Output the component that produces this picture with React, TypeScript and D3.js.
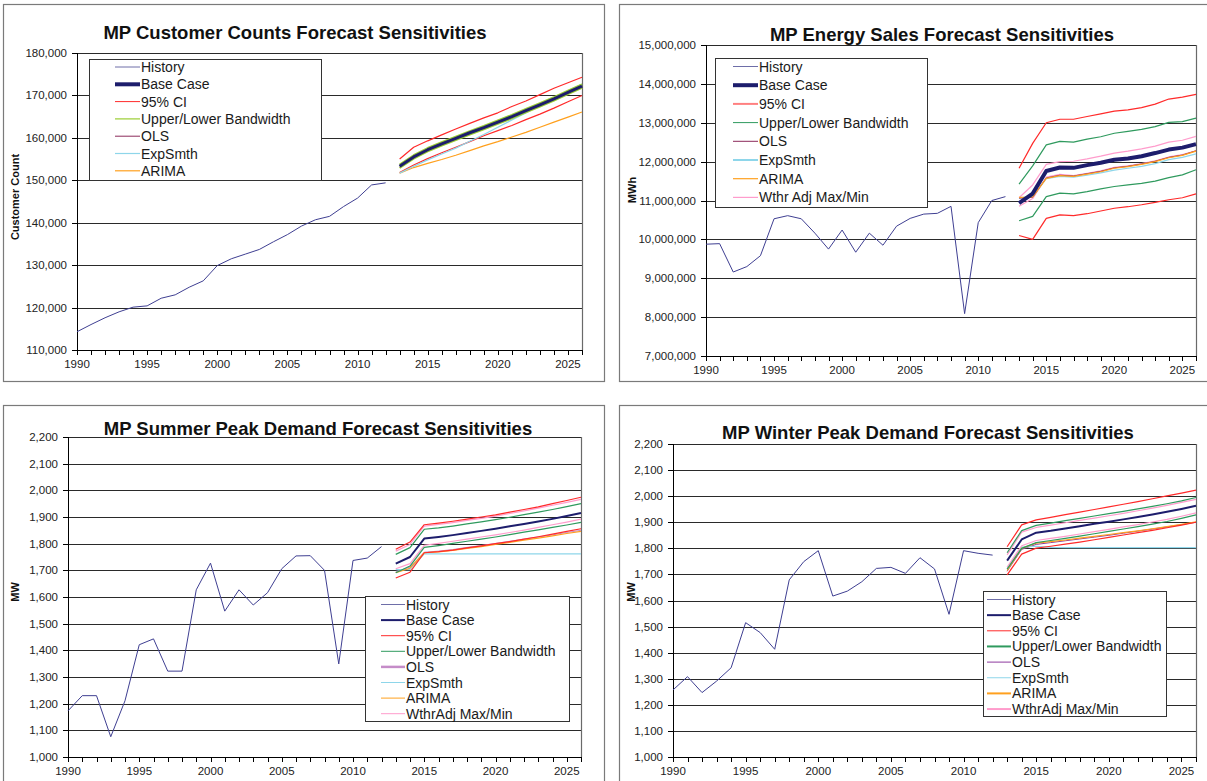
import React from "react";
import * as d3 from "d3";

// ---------- categories ----------
const histYears = [1990, 1991, 1992, 1993, 1994, 1995, 1996, 1997, 1998, 1999, 2000, 2001, 2002, 2003, 2004, 2005, 2006, 2007, 2008, 2009, 2010, 2011, 2012];
const fcYears = [2013, 2014, 2015, 2016, 2017, 2018, 2019, 2020, 2021, 2022, 2023, 2024, 2025, 2026];
const xLabelYears = [1990, 1995, 2000, 2005, 2010, 2015, 2020, 2025];
const xTickYears = [1990, 1991, 1992, 1993, 1994, 1995, 1996, 1997, 1998, 1999, 2000, 2001, 2002, 2003, 2004, 2005, 2006, 2007, 2008, 2009, 2010, 2011, 2012, 2013, 2014, 2015, 2016, 2017, 2018, 2019, 2020, 2021, 2022, 2023, 2024, 2025, 2026];

// ---------- Customer counts ----------
const custTicks = [110000, 120000, 130000, 140000, 150000, 160000, 170000, 180000];
const custHistory = [114300, 116000, 117600, 119000, 120100, 120400, 122200, 123000, 124800, 126300, 129900, 131500, 132600, 133700, 135500, 137200, 139200, 140700, 141500, 143800, 145800, 148900, 149400];
const custBase = [153300, 155500, 157200, 158600, 159900, 161200, 162400, 163700, 165000, 166400, 167800, 169200, 170700, 172200];
const custCIHigh = [155000, 157800, 159300, 160700, 162100, 163400, 164700, 165900, 167400, 168700, 170200, 171700, 173000, 174300];
const custCILow = [151800, 153600, 155100, 156500, 157800, 159100, 160500, 161700, 162900, 164300, 165600, 167000, 168500, 170000];
const custBandHigh = [153700, 155900, 157600, 159000, 160300, 161600, 162800, 164100, 165400, 166800, 168200, 169600, 171100, 172600];
const custBandLow = [152900, 155100, 156800, 158200, 159500, 160800, 162000, 163300, 164600, 166000, 167400, 168800, 170300, 171800];
const custOLS = [153200, 155400, 157100, 158500, 159800, 161100, 162300, 163600, 164900, 166300, 167700, 169100, 170600, 172100];
const custExpSmth = [151700, 153300, 154800, 156200, 157600, 159200, 160800, 162500, 164200, 165900, 167700, 169400, 171100, 172700];
const custArima = [151700, 153000, 154000, 154900, 155900, 157000, 158100, 159100, 160200, 161300, 162500, 163700, 164900, 166100];

// ---------- Energy sales ----------
const energyTicks = [7000000, 8000000, 9000000, 10000000, 11000000, 12000000, 13000000, 14000000, 15000000];
const energyHistory = [9876000, 9890000, 9160000, 9300000, 9580000, 10530000, 10610000, 10530000, 10160000, 9750000, 10240000, 9670000, 10160000, 9850000, 10340000, 10540000, 10650000, 10670000, 10850000, 8090000, 10430000, 11000000, 11100000];
const energyBase = [10930000, 11180000, 11760000, 11850000, 11840000, 11910000, 11970000, 12050000, 12080000, 12140000, 12220000, 12310000, 12360000, 12450000];
const energyCIHigh = [11830000, 12470000, 13000000, 13090000, 13090000, 13160000, 13230000, 13300000, 13330000, 13390000, 13480000, 13610000, 13660000, 13730000];
const energyCILow = [10100000, 10000000, 10540000, 10630000, 10610000, 10660000, 10730000, 10800000, 10840000, 10890000, 10950000, 11020000, 11070000, 11170000];
const energyBandHigh = [11420000, 11890000, 12430000, 12520000, 12500000, 12580000, 12640000, 12730000, 12780000, 12830000, 12900000, 13010000, 13030000, 13120000];
const energyBandLow = [10480000, 10590000, 11100000, 11190000, 11170000, 11230000, 11300000, 11360000, 11400000, 11440000, 11500000, 11590000, 11660000, 11790000];
const energyOLS = [11060000, 11080000, 11580000, 11650000, 11630000, 11690000, 11750000, 11840000, 11880000, 11940000, 12010000, 12110000, 12170000, 12280000];
const energyExpSmth = [11070000, 11100000, 11560000, 11620000, 11600000, 11650000, 11710000, 11780000, 11830000, 11880000, 11950000, 12050000, 12110000, 12200000];
const energyArima = [11080000, 11090000, 11570000, 11640000, 11620000, 11680000, 11740000, 11830000, 11870000, 11930000, 12000000, 12100000, 12160000, 12270000];
const energyWxHigh = [11070000, 11400000, 11930000, 12000000, 12010000, 12070000, 12140000, 12220000, 12270000, 12330000, 12400000, 12500000, 12550000, 12650000];
const energyWxLow = [10850000, 11050000, 11600000, 11670000, 11640000, 11700000, 11760000, 11850000, 11890000, 11950000, 12020000, 12120000, 12180000, 12280000];

// ---------- Summer peak ----------
const mwTicks = [1000, 1100, 1200, 1300, 1400, 1500, 1600, 1700, 1800, 1900, 2000, 2100, 2200];
const summerHistory = [1173, 1230, 1230, 1076, 1211, 1421, 1443, 1322, 1322, 1627, 1727, 1547, 1627, 1570, 1616, 1706, 1754, 1755, 1700, 1349, 1737, 1746, 1789];
const summerBase = [1725, 1750, 1819, 1825, 1832, 1840, 1848, 1856, 1865, 1874, 1883, 1893, 1904, 1915];
const summerCIHigh = [1779, 1806, 1871, 1877, 1884, 1892, 1900, 1908, 1918, 1928, 1938, 1950, 1962, 1974];
const summerCILow = [1671, 1693, 1766, 1770, 1776, 1784, 1792, 1800, 1808, 1817, 1826, 1836, 1846, 1856];
const summerBandHigh = [1760, 1785, 1854, 1859, 1866, 1874, 1882, 1890, 1899, 1909, 1918, 1928, 1939, 1950];
const summerBandLow = [1691, 1716, 1786, 1793, 1801, 1809, 1817, 1825, 1834, 1843, 1852, 1861, 1870, 1880];
const summerOLS = [1695, 1712, 1768, 1772, 1778, 1786, 1793, 1801, 1809, 1817, 1825, 1833, 1842, 1850];
const summerExpSmth = [1703, 1703, 1762, 1762, 1762, 1762, 1762, 1762, 1762, 1762, 1762, 1762, 1762, 1762];
const summerArima = [1691, 1708, 1766, 1769, 1775, 1782, 1789, 1797, 1805, 1813, 1821, 1829, 1838, 1846];
const summerWxHigh = [1772, 1797, 1866, 1872, 1879, 1887, 1895, 1903, 1913, 1923, 1933, 1944, 1955, 1966];
const summerWxLow = [1706, 1725, 1794, 1801, 1809, 1817, 1825, 1833, 1842, 1851, 1861, 1871, 1881, 1892];

// ---------- Winter peak ----------
const winterHistory = [1257, 1308, 1247, 1291, 1342, 1515, 1477, 1413, 1679, 1749, 1791, 1617, 1636, 1672, 1723, 1727, 1704, 1764, 1721, 1547, 1791, 1781, 1774];
const winterBase = [1753, 1834, 1860, 1867, 1876, 1885, 1894, 1902, 1911, 1920, 1930, 1940, 1951, 1963];
const winterCIHigh = [1806, 1890, 1909, 1919, 1929, 1939, 1949, 1959, 1969, 1979, 1990, 2001, 2012, 2023];
const winterCILow = [1698, 1778, 1801, 1808, 1816, 1824, 1833, 1842, 1851, 1860, 1869, 1879, 1889, 1900];
const winterBandHigh = [1783, 1868, 1888, 1897, 1906, 1915, 1924, 1933, 1942, 1951, 1961, 1971, 1982, 1995];
const winterBandLow = [1720, 1800, 1822, 1830, 1838, 1847, 1856, 1865, 1874, 1883, 1893, 1903, 1915, 1928];
const winterOLS = [1712, 1796, 1815, 1822, 1829, 1836, 1843, 1850, 1858, 1866, 1874, 1882, 1891, 1900];
const winterExpSmth = [1722, 1805, 1808, 1804, 1803, 1803, 1803, 1803, 1803, 1803, 1803, 1803, 1803, 1803];
const winterArima = [1715, 1800, 1820, 1826, 1832, 1839, 1846, 1853, 1860, 1867, 1875, 1883, 1892, 1902];
const winterWxHigh = [1775, 1862, 1880, 1889, 1898, 1907, 1916, 1925, 1934, 1944, 1954, 1965, 1976, 1988];
const winterWxLow = [1728, 1810, 1830, 1838, 1846, 1855, 1864, 1873, 1882, 1891, 1901, 1911, 1923, 1936];

// ---------- colours ----------
const C = {
  hist: "#3f3f92",
  histLegend: "#6e6ea8",
  base: "#1d1d6c",
  ci: "#ff2a2a",
  ciLegend2: "#ff8080",
  bandYG: "#9acd32",
  band: "#2f9a5e",
  olsDark: "#8b2a5a",
  olsPink: "#c58cc8",
  olsPurple: "#8e3a9e",
  exp: "#8ed6ea",
  arima: "#ffa01e",
  wx: "#ff9ccc",
};

const FONT = "'Liberation Sans', Arial, Helvetica, sans-serif";

type S = { years: number[]; values: number[]; color: string; width: number };
type L = { label: string; color: string; width: number };
type Cfg = {
  frame: [number, number, number, number];
  l: number; r: number; t: number; b: number;
  yDomain: [number, number];
  yTicks: number[];
  title: string; titleX: number; titleY: number;
  yTitle: string; yTitleX: number; yTitleY: number;
  series: S[];
  legend: { x: number; y: number; w: number; h: number; row0: number; rowH: number; s1: number; s2: number; tx: number; items: L[] };
};

const fmt = d3.format(",");

function Panel({ cfg }: { cfg: Cfg }) {
  const x = d3.scaleLinear().domain([1990, 2026]).range([cfg.l, cfg.r]);
  const y = d3.scaleLinear().domain(cfg.yDomain).range([cfg.b, cfg.t]);
  const line = d3.line<[number, number]>().x((d) => x(d[0])).y((d) => y(d[1]));
  const lg = cfg.legend;
  const [fx, fy, fw, fh] = cfg.frame;
  return (
    <g fontFamily={FONT}>
      <rect x={fx + 0.5} y={fy + 0.5} width={fw} height={fh} fill="#fff" stroke="#7a7a7a" strokeWidth={1.2} />
      {/* gridlines */}
      {cfg.yTicks.slice(1).map((v) => (
        <line key={"g" + v} x1={cfg.l} x2={cfg.r} y1={Math.round(y(v)) + 0.5} y2={Math.round(y(v)) + 0.5} stroke="#2a2a2a" strokeWidth={1} />
      ))}
      {/* right border */}
      <line x1={cfg.r + 0.5} x2={cfg.r + 0.5} y1={cfg.t} y2={cfg.b} stroke="#6a6a6a" strokeWidth={1.2} />
      {/* axes */}
      <line x1={cfg.l + 0.5} x2={cfg.l + 0.5} y1={cfg.t} y2={cfg.b} stroke="#000" strokeWidth={1} />
      <line x1={cfg.l} x2={cfg.r} y1={cfg.b + 0.5} y2={cfg.b + 0.5} stroke="#000" strokeWidth={1} />
      {cfg.yTicks.map((v) => (
        <g key={"yt" + v}>
          <line x1={cfg.l - 5} x2={cfg.l} y1={Math.round(y(v)) + 0.5} y2={Math.round(y(v)) + 0.5} stroke="#000" />
          <text x={cfg.l - 10} y={y(v) + 4} textAnchor="end" fontSize={11.5} fill="#222">
            {fmt(v)}
          </text>
        </g>
      ))}
      {xTickYears.map((yr) => (
        <line key={"xt" + yr} x1={Math.round(x(yr)) + 0.5} x2={Math.round(x(yr)) + 0.5} y1={cfg.b} y2={cfg.b + 5} stroke="#000" />
      ))}
      {xLabelYears.map((yr) => (
        <text key={"xl" + yr} x={x(yr)} y={cfg.b + 18} textAnchor="middle" fontSize={11.5} fill="#222">
          {yr}
        </text>
      ))}
      {/* series */}
      {cfg.series.map((s, i) => (
        <path
          key={"s" + i}
          d={line(s.years.map((yr, j) => [yr, s.values[j]] as [number, number])) || ""}
          fill="none"
          stroke={s.color}
          strokeWidth={s.width}
          strokeLinejoin="round"
        />
      ))}
      {/* titles */}
      <text x={cfg.titleX} y={cfg.titleY} textAnchor="middle" fontSize={18.5} fontWeight="bold" fill="#111">
        {cfg.title}
      </text>
      <text
        transform={`translate(${cfg.yTitleX},${cfg.yTitleY}) rotate(-90)`}
        textAnchor="middle"
        fontSize={11}
        fontWeight="bold"
        fill="#111"
      >
        {cfg.yTitle}
      </text>
      {/* legend */}
      <rect x={lg.x + 0.5} y={lg.y + 0.5} width={lg.w} height={lg.h} fill="#fff" stroke="#333" strokeWidth={1} />
      {lg.items.map((it, i) => {
        const cy = lg.row0 + i * lg.rowH;
        return (
          <g key={"lg" + i}>
            <line x1={lg.s1} x2={lg.s2} y1={cy} y2={cy} stroke={it.color} strokeWidth={it.width} />
            <text x={lg.tx} y={cy + 5} fontSize={14} fill="#1a1a1a">
              {it.label}
            </text>
          </g>
        );
      })}
    </g>
  );
}

const H = histYears;
const F = fcYears;

const panels: Cfg[] = [
  {
    frame: [3, 4, 601, 377],
    l: 77, r: 582, t: 53, b: 350,
    yDomain: [110000, 180000],
    yTicks: custTicks,
    title: "MP Customer Counts Forecast Sensitivities", titleX: 295, titleY: 39,
    yTitle: "Customer  Count", yTitleX: 19, yTitleY: 197,
    series: [
      { years: H, values: custHistory, color: C.hist, width: 1 },
      { years: F, values: custCILow, color: C.ci, width: 1.2 },
      { years: F, values: custCIHigh, color: C.ci, width: 1.2 },
      { years: F, values: custArima, color: C.arima, width: 1.2 },
      { years: F, values: custExpSmth, color: C.exp, width: 1.3 },
      { years: F, values: custOLS, color: C.olsDark, width: 1 },
      { years: F, values: custBandHigh, color: C.bandYG, width: 2 },
      { years: F, values: custBandLow, color: C.bandYG, width: 2 },
      { years: F, values: custBase, color: C.base, width: 3 },
    ],
    legend: {
      x: 89, y: 59, w: 232, h: 121, row0: 67, rowH: 17.3, s1: 115, s2: 140, tx: 141,
      items: [
        { label: "History", color: C.histLegend, width: 1 },
        { label: "Base Case", color: C.base, width: 4 },
        { label: "95% CI", color: C.ci, width: 1 },
        { label: "Upper/Lower Bandwidth", color: C.bandYG, width: 1.2 },
        { label: "OLS", color: C.olsDark, width: 1 },
        { label: "ExpSmth", color: C.exp, width: 1.2 },
        { label: "ARIMA", color: C.arima, width: 1.2 },
      ],
    },
  },
  {
    frame: [619, 4, 590, 377],
    l: 706, r: 1196, t: 45, b: 356,
    yDomain: [7000000, 15000000],
    yTicks: energyTicks,
    title: "MP Energy Sales Forecast Sensitivities", titleX: 942, titleY: 41,
    yTitle: "MWh", yTitleX: 636, yTitleY: 190,
    series: [
      { years: H, values: energyHistory, color: C.hist, width: 1 },
      { years: F, values: energyCIHigh, color: C.ci, width: 1.2 },
      { years: F, values: energyCILow, color: C.ci, width: 1.2 },
      { years: F, values: energyBandHigh, color: C.band, width: 1.2 },
      { years: F, values: energyBandLow, color: C.band, width: 1.2 },
      { years: F, values: energyWxHigh, color: C.wx, width: 1.2 },
      { years: F, values: energyWxLow, color: C.wx, width: 1.2 },
      { years: F, values: energyExpSmth, color: C.exp, width: 1.2 },
      { years: F, values: energyOLS, color: C.olsDark, width: 1 },
      { years: F, values: energyArima, color: C.arima, width: 1.2 },
      { years: F, values: energyBase, color: C.base, width: 4 },
    ],
    legend: {
      x: 715, y: 58, w: 212, h: 149, row0: 66.5, rowH: 18.7, s1: 733, s2: 758, tx: 759,
      items: [
        { label: "History", color: C.histLegend, width: 1 },
        { label: "Base Case", color: C.base, width: 4 },
        { label: "95% CI", color: C.ciLegend2, width: 2 },
        { label: "Upper/Lower Bandwidth", color: C.band, width: 1 },
        { label: "OLS", color: C.olsDark, width: 1 },
        { label: "ExpSmth", color: C.exp, width: 2 },
        { label: "ARIMA", color: C.arima, width: 1.2 },
        { label: "Wthr Adj Max/Min", color: C.wx, width: 1.2 },
      ],
    },
  },
  {
    frame: [3, 405, 601, 380],
    l: 68, r: 581, t: 437, b: 757,
    yDomain: [1000, 2200],
    yTicks: mwTicks,
    title: "MP Summer Peak Demand Forecast Sensitivities", titleX: 318, titleY: 435,
    yTitle: "MW", yTitleX: 19, yTitleY: 592,
    series: [
      { years: H, values: summerHistory, color: C.hist, width: 1 },
      { years: F, values: summerOLS, color: C.olsPink, width: 1 },
      { years: F, values: summerExpSmth, color: C.exp, width: 1.2 },
      { years: F, values: summerArima, color: C.arima, width: 1.2 },
      { years: F, values: summerWxHigh, color: C.wx, width: 1.2 },
      { years: F, values: summerWxLow, color: C.wx, width: 1.2 },
      { years: F, values: summerBandHigh, color: C.band, width: 1.2 },
      { years: F, values: summerBandLow, color: C.band, width: 1.2 },
      { years: F, values: summerCIHigh, color: C.ci, width: 1.2 },
      { years: F, values: summerCILow, color: C.ci, width: 1.2 },
      { years: F, values: summerBase, color: C.base, width: 2 },
    ],
    legend: {
      x: 365, y: 596, w: 204, h: 125, row0: 604.5, rowH: 15.6, s1: 381, s2: 405, tx: 406,
      items: [
        { label: "History", color: C.histLegend, width: 1 },
        { label: "Base Case", color: C.base, width: 2 },
        { label: "95% CI", color: C.ci, width: 1 },
        { label: "Upper/Lower Bandwidth", color: C.band, width: 1 },
        { label: "OLS", color: C.olsPink, width: 2.5 },
        { label: "ExpSmth", color: C.exp, width: 1 },
        { label: "ARIMA", color: C.arima, width: 1 },
        { label: "WthrAdj Max/Min", color: C.wx, width: 1 },
      ],
    },
  },
  {
    frame: [619, 405, 590, 380],
    l: 673, r: 1196, t: 444, b: 757,
    yDomain: [1000, 2200],
    yTicks: mwTicks,
    title: "MP Winter Peak Demand Forecast Sensitivities", titleX: 928, titleY: 439,
    yTitle: "MW", yTitleX: 635, yTitleY: 592,
    series: [
      { years: H, values: winterHistory, color: C.hist, width: 1 },
      { years: F, values: winterOLS, color: C.olsPurple, width: 1 },
      { years: F, values: winterExpSmth, color: C.exp, width: 1.2 },
      { years: F, values: winterArima, color: C.arima, width: 1.2 },
      { years: F, values: winterWxHigh, color: C.wx, width: 1.2 },
      { years: F, values: winterWxLow, color: C.wx, width: 1.2 },
      { years: F, values: winterBandHigh, color: C.band, width: 1.2 },
      { years: F, values: winterBandLow, color: C.band, width: 1.2 },
      { years: F, values: winterCIHigh, color: C.ci, width: 1.2 },
      { years: F, values: winterCILow, color: C.ci, width: 1.2 },
      { years: F, values: winterBase, color: C.base, width: 2 },
    ],
    legend: {
      x: 983, y: 591, w: 183, h: 125, row0: 599.5, rowH: 15.65, s1: 987, s2: 1011, tx: 1012,
      items: [
        { label: "History", color: C.histLegend, width: 1 },
        { label: "Base Case", color: C.base, width: 2 },
        { label: "95% CI", color: C.ci, width: 1 },
        { label: "Upper/Lower Bandwidth", color: C.band, width: 2 },
        { label: "OLS", color: C.olsPurple, width: 1 },
        { label: "ExpSmth", color: C.exp, width: 1 },
        { label: "ARIMA", color: C.arima, width: 2 },
        { label: "WthrAdj Max/Min", color: C.wx, width: 2 },
      ],
    },
  },
];

export default function App() {
  return (
    <svg
      width={1207}
      height={781}
      viewBox="0 0 1207 781"
      style={{ position: "fixed", left: 0, top: 0, display: "block", background: "#fff" }}
    >
      <rect x={0} y={0} width={1207} height={781} fill="#fff" />
      {panels.map((p, i) => (
        <Panel key={i} cfg={p} />
      ))}
    </svg>
  );
}
